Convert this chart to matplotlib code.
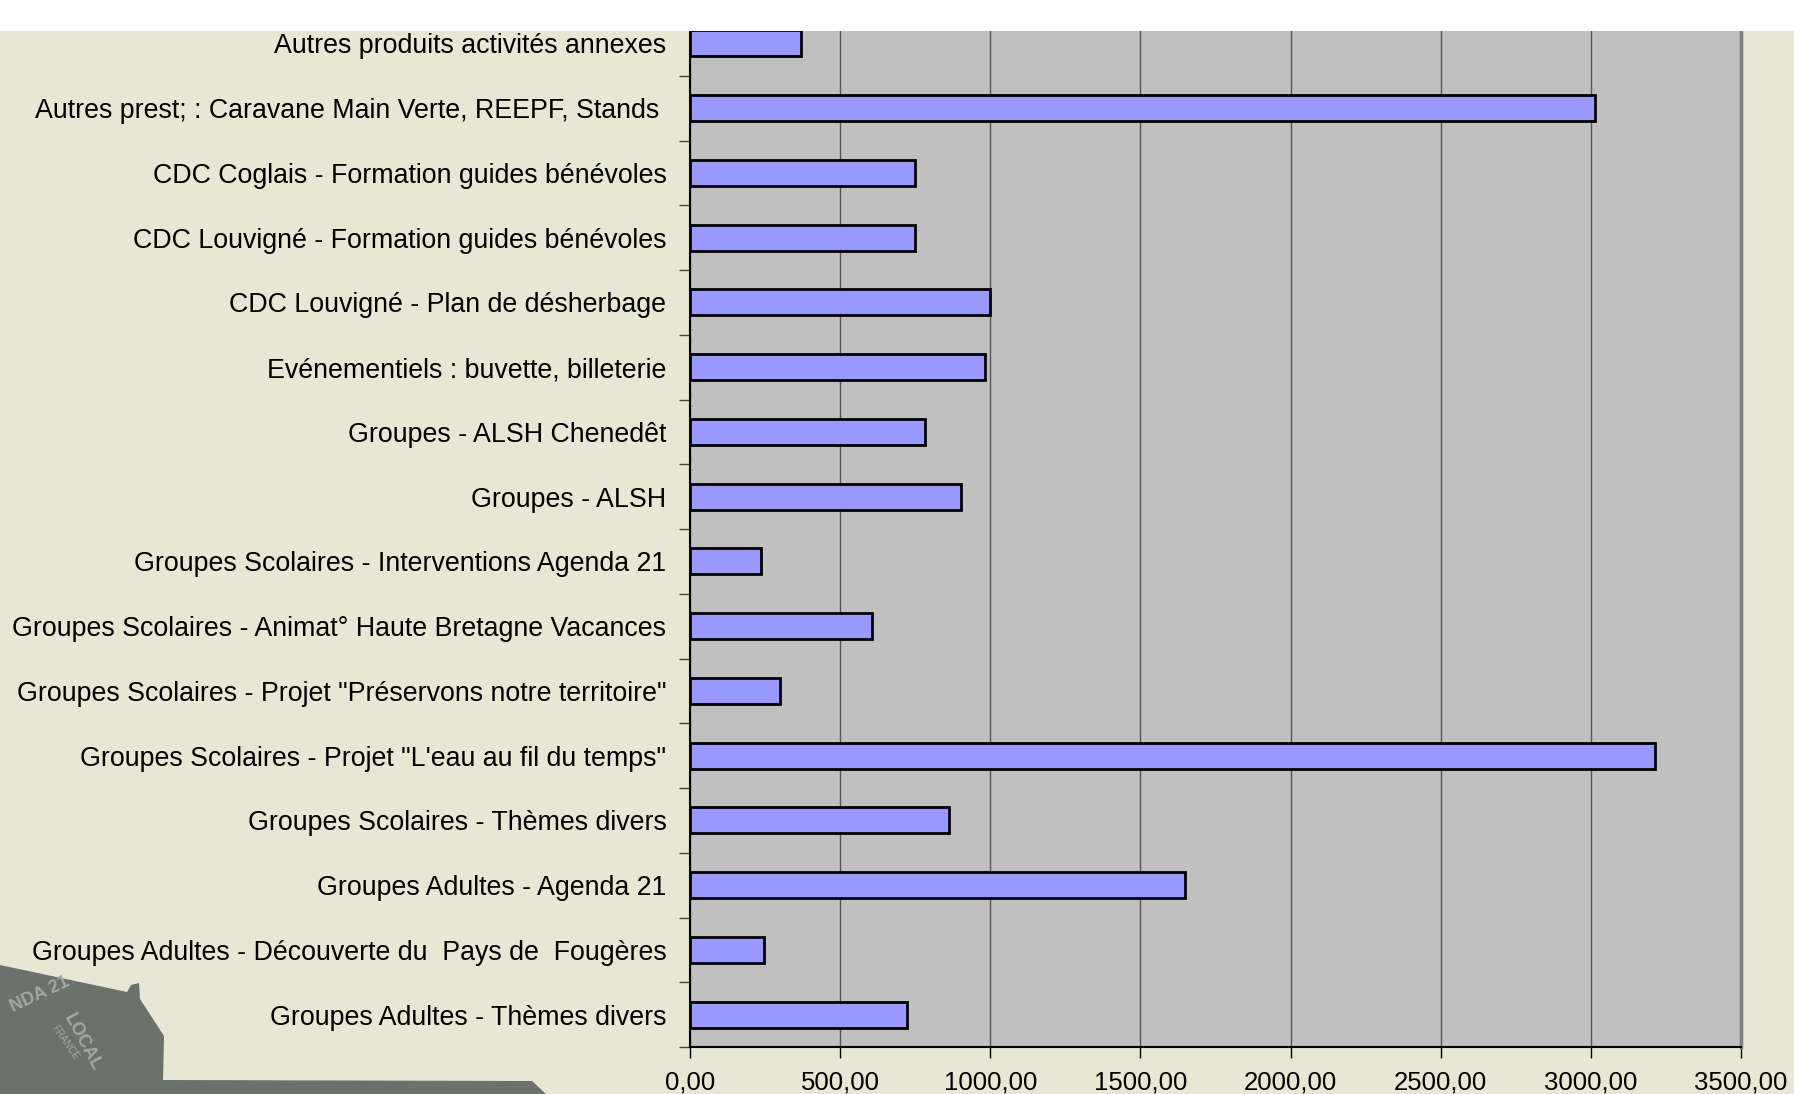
import numpy as np
import matplotlib
matplotlib.use("Agg")
from matplotlib import pyplot as plt
from matplotlib.patches import Polygon, Rectangle
from matplotlib.ticker import FuncFormatter, FixedLocator

plt.rcParams['font.family'] = ['Liberation Sans', 'DejaVu Sans']

categories = [
    "Autres produits activités annexes",
    "Autres prest; : Caravane Main Verte, REEPF, Stands ",
    "CDC Coglais - Formation guides bénévoles",
    "CDC Louvigné - Formation guides bénévoles",
    "CDC Louvigné - Plan de désherbage",
    "Evénementiels : buvette, billeterie",
    "Groupes - ALSH Chenedêt",
    "Groupes - ALSH",
    "Groupes Scolaires - Interventions Agenda 21",
    "Groupes Scolaires - Animat° Haute Bretagne Vacances",
    "Groupes Scolaires - Projet \"Préservons notre territoire\"",
    "Groupes Scolaires - Projet \"L'eau au fil du temps\"",
    "Groupes Scolaires - Thèmes divers",
    "Groupes Adultes - Agenda 21",
    "Groupes Adultes - Découverte du  Pays de  Fougères",
    "Groupes Adultes - Thèmes divers",
]
montants = [368, 3015, 750, 750, 1000, 982, 781, 902,
            236, 605, 301, 3214, 864, 1649, 248, 723]
x_ticks = [0, 500, 1000, 1500, 2000, 2500, 3000, 3500]

beige = "#E7E7D3"
fig = plt.figure(figsize=(17.94, 10.94), dpi=100)
fig.patch.set_facecolor(beige)

# bandeau blanc en haut + logo en bas a gauche
fig.patches.append(Rectangle((0, 1 - 31 / 1094), 1, 31 / 1094, transform=fig.transFigure,
                             facecolor="white", edgecolor="none", zorder=0))
logo = [(0, 965), (127, 992), (131, 985), (139, 983), (140, 999), (164, 1036),
        (163, 1080), (532, 1081), (546, 1094), (0, 1094)]
logo = [(x / 1794, 1 - y / 1094) for x, y in logo]
fig.patches.append(Polygon(logo, closed=True, transform=fig.transFigure,
                           facecolor="#6B716B", edgecolor="none", zorder=0))
lc = "#A3A8A3"
fig.text(8 / 1794, 1 - 1012 / 1094, "NDA 21", fontsize=13, color=lc,
         rotation=25, fontweight="bold", zorder=1)
fig.text(60 / 1794, 1 - 1070 / 1094, "LOCAL", fontsize=13, color=lc,
         rotation=-62, fontweight="bold", zorder=1)
fig.text(50 / 1794, 1 - 1060 / 1094, "FRANCE", fontsize=7, color=lc,
         rotation=-55, zorder=1)

ax = fig.add_axes([690 / 1794, 1 - 1047 / 1094, 1051 / 1794, 1036 / 1094])
ax.set_facecolor("#C0C0C0")

y = np.arange(len(categories))
ax.barh(y, montants, height=0.4, color="#9999FF", edgecolor="black", linewidth=2, zorder=3)

ax.set_xlim(0, 3500)
ax.set_ylim(len(categories) - 0.5, -0.5)
ax.xaxis.set_major_locator(FixedLocator(x_ticks))
ax.xaxis.set_major_formatter(FuncFormatter(lambda v, p: f"{v:.2f}".replace(".", ",")))
ax.set_yticks(y)
ax.set_yticklabels(categories)
ax.set_yticks(np.arange(len(categories) + 1) - 0.5, minor=True)

ax.grid(axis="x", color="#555555", linewidth=1, zorder=1)
ax.tick_params(axis="y", which="major", length=0, pad=17, labelsize=19.3)
ax.tick_params(axis="y", which="minor", length=8, width=1, color="#444444")
ax.tick_params(axis="x", which="major", length=8, width=1, pad=9, labelsize=18.5)

for side in ["left", "bottom"]:
    ax.spines[side].set_color("black")
    ax.spines[side].set_linewidth(1.5)
for side in ["top", "right"]:
    ax.spines[side].set_color("#808080")
    ax.spines[side].set_linewidth(2.5)

fig.savefig("out.png", dpi=100, facecolor=fig.get_facecolor())
